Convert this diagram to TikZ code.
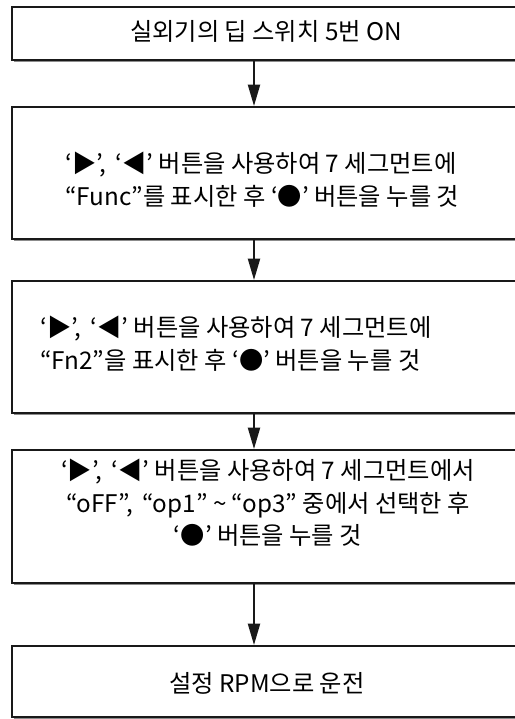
\documentclass[tikz,border=0pt]{standalone}
\usepackage{fontspec}
\newfontfamily\kr{Noto Sans CJK KR}
\usetikzlibrary{arrows.meta,shadows}
\begin{document}
\begin{tikzpicture}[x=0.75pt,y=-0.75pt,
  box/.style={draw=black!90,line width=1.5pt,fill=white,minimum width=382.5pt,
    drop shadow={shadow xshift=1.3pt,shadow yshift=-1.3pt,fill=black!45,opacity=1}},
  txt/.style={font=\kr\fontsize{18.2pt}{24.5pt}\selectfont,inner sep=0pt},
  arr/.style={line width=1.5pt,draw=black!90,-{Triangle[length=16pt,width=9pt]}}]
\useasboundingbox (0,0) rectangle (515,719);
\node[box,minimum height=39.75pt] (b1) at (267,33.5) {};
\node[box,minimum height=99pt] (b2) at (267,173) {};
\node[box,minimum height=99pt] (b3) at (267,347) {};
\node[box,minimum height=99.75pt] (b4) at (267,516.5) {};
\node[box,minimum height=53.25pt] (b5) at (267,681.5) {};
\coordinate (ax) at (254,0);
\node[txt] (t1) at (266,31) {실외기의 딥 스위치 5번 ON};
\node[txt,align=left,anchor=west] (t2) at (65,180) {‘▶’,\, ‘◀’ 버튼을 사용하여 7 세그먼트에\\“Func”를 표시한 후 ‘●’ 버튼을 누를 것};
\node[txt,align=left,anchor=west] (t3) at (40,344) {‘▶’,\, ‘◀’ 버튼을 사용하여 7 세그먼트에\\“Fn2”을 표시한 후 ‘●’ 버튼을 누를 것};
\node[txt,align=center] (t4) at (268,503) {‘▶’,\, ‘◀’ 버튼을 사용하여 7 세그먼트에서\\“oFF”,\, “op1” \textasciitilde{} “op3” 중에서 선택한 후\\‘●’ 버튼을 누를 것};
\node[txt] (t5) at (267,683) {설정 RPM으로 운전};
\draw[arr] (b1.south -| ax) -- (b2.north -| ax);
\draw[arr] (b2.south -| ax) -- (b3.north -| ax);
\draw[arr] (b3.south -| ax) -- (b4.north -| ax);
\draw[arr] (b4.south -| ax) -- (b5.north -| ax);
\end{tikzpicture}
\end{document}
